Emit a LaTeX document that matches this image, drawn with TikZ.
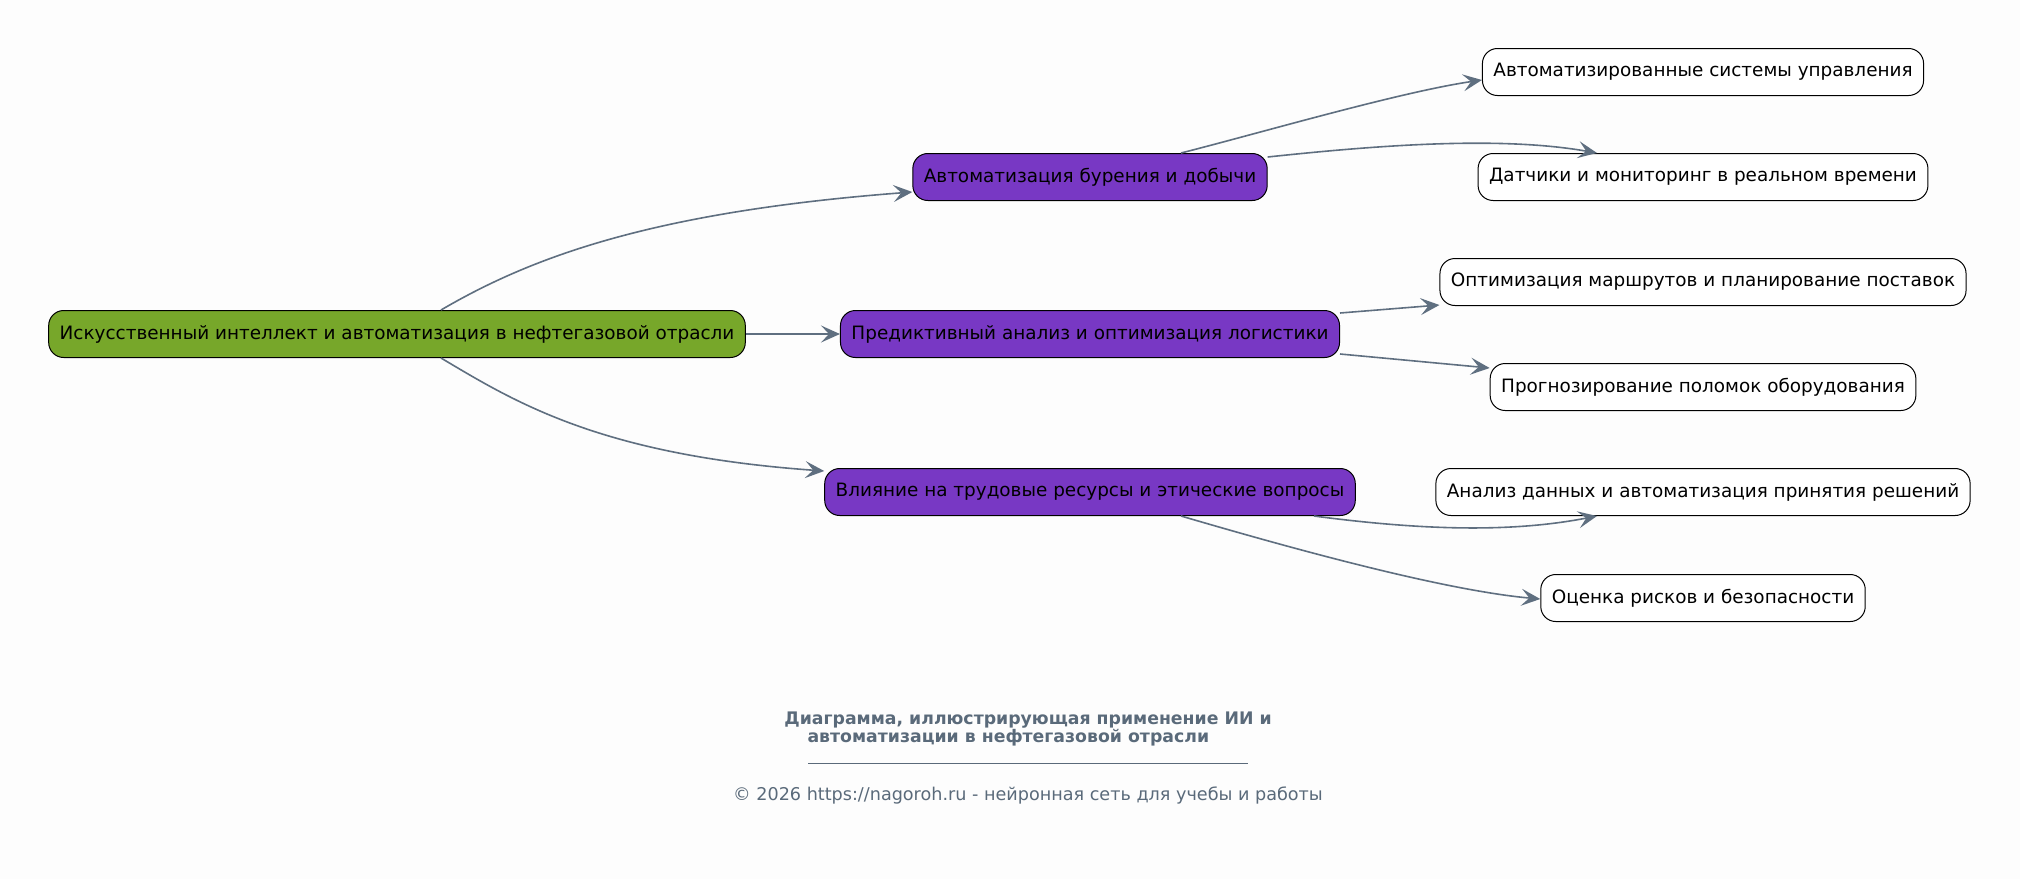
\documentclass[tikz,border=0pt]{standalone}
\usepackage{fontspec}
\setmainfont{DejaVu Sans}
\usetikzlibrary{arrows.meta,calc}
\definecolor{edgec}{HTML}{5F6F80}
\definecolor{rootc}{HTML}{77A72A}
\definecolor{midc}{HTML}{7838C4}
\definecolor{titlec}{HTML}{5A6A7A}
\definecolor{bgc}{HTML}{FDFDFD}
\tikzset{
  basebox/.style={draw=black, line width=1pt, rounded corners=15pt, minimum height=47pt, inner xsep=11pt, font=\fontsize{18.4}{22}\selectfont, text=black},
  rootbox/.style={basebox, fill=rootc},
  midbox/.style={basebox, fill=midc},
  leafbox/.style={basebox, fill=white},
  conn/.style={draw=edgec, line width=1.6pt, -{Stealth[length=19pt,width=17pt,inset=8pt]}},
}
\begin{document}
\begin{tikzpicture}[x=1pt,y=-1pt]
\fill[bgc] (0,0) rectangle (2020,879);
\useasboundingbox (0,0) rectangle (2020,879);

\node[rootbox] (root) at (397,334) {Искусственный интеллект и автоматизация в нефтегазовой отрасли};
\node[midbox] (m1) at (1090,177) {Автоматизация бурения и добычи};
\node[midbox] (m2) at (1090,334) {Предиктивный анализ и оптимизация логистики};
\node[midbox] (m3) at (1090,492) {Влияние на трудовые ресурсы и этические вопросы};

\node[leafbox] (l1) at (1703,72) {Автоматизированные системы управления};
\node[leafbox] (l2) at (1703,177) {Датчики и мониторинг в реальном времени};
\node[leafbox] (l3) at (1703,282) {Оптимизация маршрутов и планирование поставок};
\node[leafbox] (l4) at (1703,387) {Прогнозирование поломок оборудования};
\node[leafbox] (l5) at (1703,492) {Анализ данных и автоматизация принятия решений};
\node[leafbox] (l6) at (1703,598) {Оценка рисков и безопасности};

% connectors
\draw[conn] ([xshift=44pt]root.north) .. controls (530,258) and (650,212) .. ([yshift=-15pt]m1.west);
\draw[conn] (root.east) -- (m2.west);
\draw[conn] ([xshift=44pt]root.south) .. controls (515,402) and (600,455) .. ([yshift=21pt]m3.west);

\draw[conn] ([xshift=91pt]m1.north) .. controls (1260,133) and (1400,92) .. ([yshift=-8pt]l1.west);
\draw[conn] ([yshift=20pt]m1.east) .. controls (1380,145) and (1500,136) .. ([xshift=-106pt]l2.north);

\draw[conn] ([yshift=21pt]m2.east) -- ([yshift=-23pt]l3.west);
\draw[conn] ([yshift=-20pt]m2.east) -- ([yshift=19pt]l4.west);

\draw[conn] ([xshift=224pt]m3.south) .. controls (1420,530) and (1510,533) .. ([xshift=-106pt]l5.south);
\draw[conn] ([xshift=91pt]m3.south) .. controls (1280,545) and (1440,590) .. ([yshift=-1pt]l6.west);

% caption
\node[font=\bfseries\fontsize{17.3}{20}\selectfont, text=titlec] (t1) at (1028,720) {Диаграмма, иллюстрирующая применение ИИ и};
\node[font=\bfseries\fontsize{17.3}{20}\selectfont, text=titlec, anchor=west] (t2) at (804,738) {автоматизации в нефтегазовой отрасли};
\coordinate (ra) at (808,763);
\coordinate (rb) at (1248,763);
\draw[titlec, line width=0.8pt] (ra) -- (rb);
\node[font=\fontsize{17.6}{20}\selectfont, text=titlec] (cp) at (1028,795) {© 2026 https://nagoroh.ru - нейронная сеть для учебы и работы};
\end{tikzpicture}
\end{document}
